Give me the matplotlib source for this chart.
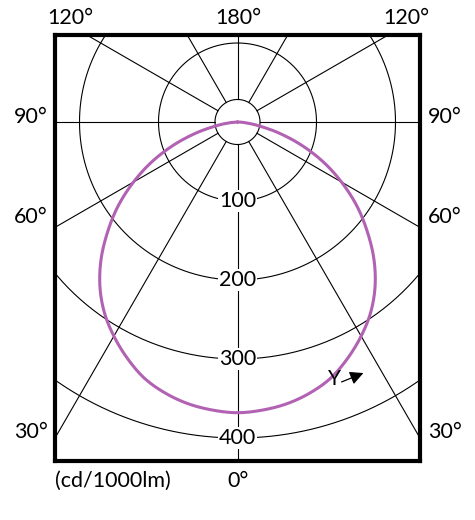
import numpy as np
import matplotlib
matplotlib.use("Agg")
import matplotlib.pyplot as plt

# ---- data ----
angles_deg = [0, 5, 10, 15, 20, 25, 30, 35, 40, 45, 50, 55, 60, 65, 70, 75, 80, 85, 90]
intensity = [368, 366, 362, 355, 345, 330, 313, 294, 271, 244, 214, 184, 152, 120, 87, 55, 27, 9, 0]
ring_values = [100, 200, 300, 400]
ring_labels = ["100", "200", "300", "400"]
inner_ring = 28.5
spoke_angles = [0, 30, 60, 90, 120, 150, 180, 210, 240, 270, 300, 330]
angle_labels_left = ["120°", "90°", "60°", "30°"]
angle_labels_right = ["120°", "90°", "60°", "30°"]
top_label = "180°"
bottom_label = "0°"
unit_label = "(cd/1000lm)"

plt.rcParams['font.family'] = ['Lato', 'DejaVu Sans']

W, H = 475, 520
fig = plt.figure(figsize=(W / 100, H / 100), dpi=100)
fig.patch.set_facecolor('white')

px_per_cd = 0.79
cx, cy = 237.5, 122.0
fl, fr, ft, fb = 55.0, 420.0, 35.0, 460.5
ax = fig.add_axes([fl / W, (H - fb) / H, (fr - fl) / W, (fb - ft) / H])
ax.set_xlim((fl - cx) / px_per_cd, (fr - cx) / px_per_cd)
ax.set_ylim(-(fb - cy) / px_per_cd, (cy - ft) / px_per_cd)
ax.set_xticks([])
ax.set_yticks([])
for s in ax.spines.values():
    s.set_linewidth(3.0)
    s.set_color('black')
    s.set_zorder(10)

def to_xy(theta_deg, r):
    t = np.radians(np.asarray(theta_deg, dtype=float))
    r = np.asarray(r, dtype=float)
    return r * np.sin(t), -r * np.cos(t)

# rings
phi = np.linspace(0, 360, 721)
for v in [inner_ring] + ring_values:
    x, y = to_xy(phi, np.full_like(phi, v))
    ax.plot(x, y, color='black', lw=0.8, zorder=2)

# spokes
for a in spoke_angles:
    x, y = to_xy([a, a], [inner_ring, 800])
    ax.plot(x, y, color='black', lw=0.8, zorder=2)

# curve (mirror both sides), smoothed with a Catmull-Rom spline
th = np.array(angles_deg, dtype=float)
rr = np.array(intensity, dtype=float)
full_th = np.concatenate([-th[::-1], th[1:]])
full_r = np.concatenate([rr[::-1], rr[1:]])
px_, py_ = to_xy(full_th, full_r)
P = np.column_stack([px_, py_])
P = np.vstack([P[0], P, P[-1]])
seg = []
for i in range(1, len(P) - 2):
    p0, p1, p2, p3 = P[i - 1], P[i], P[i + 1], P[i + 2]
    t = np.linspace(0, 1, 20, endpoint=False)[:, None]
    c = 0.5 * ((2 * p1) + (-p0 + p2) * t + (2 * p0 - 5 * p1 + 4 * p2 - p3) * t ** 2
               + (-p0 + 3 * p1 - 3 * p2 + p3) * t ** 3)
    seg.append(c)
seg.append(P[-2][None, :])
C = np.vstack(seg)
ax.plot(C[:, 0], C[:, 1], color='#b262b2', lw=2.2, zorder=4,
        solid_joinstyle='round', solid_capstyle='round')

# ring labels
for v, lab in zip(ring_values, ring_labels):
    ax.text(0, -v, lab, ha='center', va='center', fontsize=15.5, zorder=6,
            bbox=dict(facecolor='white', edgecolor='none', pad=0.5))

# Y arrow annotation
ax.annotate('', xy=((366 - cx) / px_per_cd, -(372 - cy) / px_per_cd),
            xytext=((339 - cx) / px_per_cd, -(383 - cy) / px_per_cd),
            arrowprops=dict(arrowstyle='-|>', color='black', lw=0.9,
                            mutation_scale=20), zorder=7)
ax.text((334 - cx) / px_per_cd, -(379 - cy) / px_per_cd, 'Y', ha='center',
        va='center', fontsize=15, zorder=7)

# outside labels
def ftext(xp, yp, s, **kw):
    fig.text(xp / W, 1 - yp / H, s, ha='center', va='center', fontsize=15.5, **kw)

ftext(70, 18, angle_labels_left[0])
ftext(31, 117, angle_labels_left[1])
ftext(31, 217, angle_labels_left[2])
ftext(31, 432, angle_labels_left[3])
ftext(406, 18, angle_labels_right[0])
ftext(445, 117, angle_labels_right[1])
ftext(445, 217, angle_labels_right[2])
ftext(445, 432, angle_labels_right[3])
ftext(238, 18, top_label)
ftext(238, 481, bottom_label)
fig.text(55 / W, 1 - 481 / H, unit_label, ha='left', va='center', fontsize=15.5)

fig.savefig('out.png', dpi=100, facecolor='white')
